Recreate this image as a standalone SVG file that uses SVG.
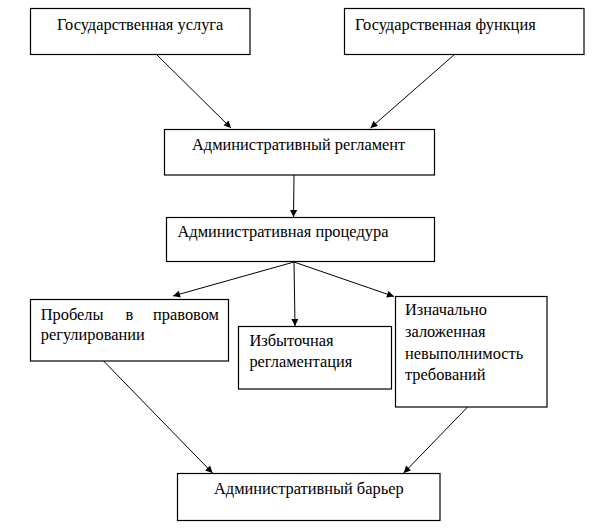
<svg xmlns="http://www.w3.org/2000/svg" width="594" height="528" viewBox="0 0 594 528">
<defs>
<style>
.box{fill:#fff;stroke:#000;stroke-width:1.2}
.t{font-family:'Liberation Serif','DejaVu Serif',serif;font-size:16.4px;fill:#000}
.c{stroke:#000;stroke-width:1;fill:none;marker-end:url(#ah)}
</style>
<marker id="ah" viewBox="0 0 10 10" refX="10" refY="5" markerWidth="9" markerHeight="7" markerUnits="userSpaceOnUse" orient="auto">
<path d="M0,0 L10,5 L0,10 z" fill="#000"/>
</marker>
</defs>
<rect width="594" height="528" fill="#fff"/>
<g id="connectors">
<line class="c" x1="156" y1="54" x2="231" y2="128"/>
<line class="c" x1="455" y1="54" x2="370.5" y2="128"/>
<line class="c" x1="294" y1="175" x2="293.5" y2="217"/>
<line class="c" x1="294" y1="262" x2="173" y2="296"/>
<line class="c" x1="294" y1="262" x2="295" y2="326"/>
<line class="c" x1="294" y1="262" x2="394" y2="296.5"/>
<line class="c" x1="103.6" y1="361" x2="212.5" y2="473"/>
<line class="c" x1="467.6" y1="407" x2="403.7" y2="473"/>
</g>
<g id="n1">
<rect class="box" x="30.5" y="8.5" width="219.5" height="46"/>
<text class="t" x="57" y="29.5">Государственная услуга</text>
</g>
<g id="n2">
<rect class="box" x="344.5" y="8.5" width="239.5" height="46"/>
<text class="t" x="355" y="29.5">Государственная функция</text>
</g>
<g id="n3">
<rect class="box" x="164.5" y="129.5" width="270" height="45.5"/>
<text class="t" x="192" y="150">Административный регламент</text>
</g>
<g id="n4">
<rect class="box" x="166.5" y="217.5" width="268" height="44"/>
<text class="t" x="177.5" y="237">Административная процедура</text>
</g>
<g id="n5">
<rect class="box" x="30.5" y="299.5" width="198" height="61.5"/>
<text class="t" y="319.5"><tspan x="40.7">Пробелы</tspan><tspan x="125.5">в</tspan></text>
<text class="t" x="219" y="319.5" text-anchor="end">правовом</text>
<text class="t" x="40.7" y="340">регулировании</text>
</g>
<g id="n6">
<rect class="box" x="238.5" y="326.5" width="153" height="62.5"/>
<text class="t" x="249.4" y="346">Избыточная</text>
<text class="t" x="249.4" y="366.5">регламентация</text>
</g>
<g id="n7">
<rect class="box" x="395.5" y="296.5" width="151.5" height="110.5"/>
<text class="t" x="405" y="315">Изначально</text>
<text class="t" x="405" y="336.5">заложенная</text>
<text class="t" x="405" y="358.5">невыполнимость</text>
<text class="t" x="405" y="380">требований</text>
</g>
<g id="n8">
<rect class="box" x="177.5" y="473.5" width="262.5" height="47"/>
<text class="t" x="214" y="493.5">Административный барьер</text>
</g>
</svg>
